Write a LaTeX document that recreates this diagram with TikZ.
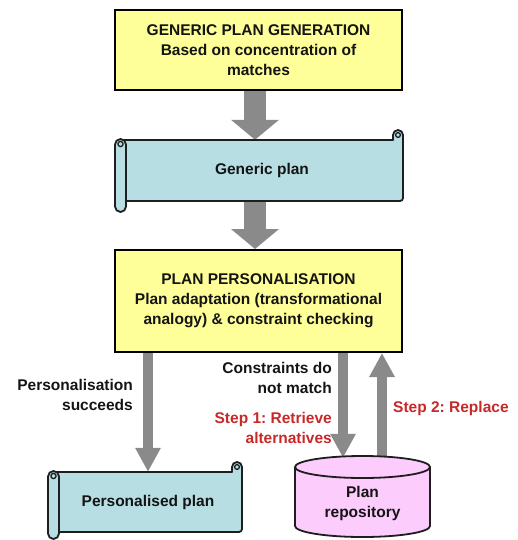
\documentclass[tikz,border=0pt]{standalone}
\usepackage{fontspec}
\setmainfont{Liberation Sans}
\usetikzlibrary{arrows.meta,backgrounds}
\frenchspacing

\definecolor{boxyellow}{HTML}{FFFF99}
\definecolor{scrollteal}{HTML}{B7DEE3}
\definecolor{scrolledge}{HTML}{1E1E1E}
\definecolor{repopink}{HTML}{FCCCFC}
\definecolor{flowgray}{HTML}{8A8A8A}
\definecolor{stepred}{HTML}{C82828}
\definecolor{textdark}{HTML}{141414}

% Scroll outline: left x, right x, body top, body bottom, bottom of the left roll
\newcommand\drawscroll[5]{%
  \filldraw[scrollline, rounded corners=3pt] (#1+6,#3) -- (#2,#3) -- (#2,#4) -- (#1+6,#4) -- cycle;
  \filldraw[scrollline, rounded corners=5pt] (#2-10,#3) -- (#2-10,#3-10) -- (#2,#3-10) -- (#2,#3+6);
  \draw[scrollline, line width=1.3pt] (#2-5,#3-5) circle (2.4pt);
  \filldraw[scrollline, rounded corners=5.5pt] (#1,#3-1) rectangle (#1+11,#5);
  \draw[scrollline, line width=1.3pt] (#1+5.5,#3+4) circle (2.6pt);
}

\begin{document}
\begin{tikzpicture}[x=1pt, y=-1pt,
  every node/.style={font=\fontsize{15.5}{20}\selectfont\bfseries, text=textdark},
  stagebox/.style={draw=black, line width=2pt, fill=boxyellow, align=center, inner sep=0pt,
    minimum width=287pt},
  bodyarea/.style={inner sep=0pt, align=center},
  scrollline/.style={draw=scrolledge, line width=1.8pt, fill=scrollteal},
  repoline/.style={draw=scrolledge, line width=1.8pt, fill=repopink},
  bigflow/.style={draw=flowgray, line width=22pt, -{Triangle[length=20pt, width=47pt]}},
  thinflow/.style={draw=flowgray, line width=10pt, -{Triangle[length=24pt, width=24pt]}},
  sidenote/.style={align=right, inner sep=0pt},
  stepnote/.style={align=right, inner sep=0pt, text=stepred}]

\useasboundingbox (0,0) rectangle (518,540);

% Process stages
\node[stagebox, minimum height=80pt] (gen) at (258.5,50)
  {GENERIC PLAN GENERATION\\Based on concentration of\\matches};
\node[stagebox, minimum height=102pt] (pers) at (258.5,301)
  {PLAN PERSONALISATION\\Plan adaptation (transformational\\analogy) \& constraint checking};

% Scrolls
\drawscroll{115}{403}{140}{201}{212}
\node[bodyarea, minimum width=282pt, minimum height=61pt] (gp) at (262,170.5) {Generic plan};
\drawscroll{48}{242}{472}{532}{539}
\node[bodyarea, minimum width=188pt, minimum height=60pt] (ppl) at (148,502) {Personalised plan};

% Plan repository cylinder
\filldraw[repoline] (362.5,526) ellipse (67.5 and 11);
\fill[repopink] (295,467) rectangle (430,526);
\draw[repoline] (295,467) -- (295,526) (430,467) -- (430,526);
\filldraw[repoline] (362.5,467) ellipse (67.5 and 11);
\node[inner sep=0pt, minimum width=135pt, minimum height=81pt] (repo) at (362.5,496.5) {};
\node[bodyarea] (repotext) at (362.5,503) {Plan\\repository};

% Flow arrows
\begin{pgfonlayer}{background}
  \draw[bigflow] ([xshift=-3.5pt]gen.south) -- ([xshift=-3.5pt]gen.south |- gp.north);
  \draw[bigflow] ([xshift=-3.5pt]gp.south -| gen.south) -- ([xshift=-3.5pt]pers.north);
  \draw[thinflow] (ppl.north |- pers.south) -- (ppl.north);
  \draw[thinflow] ([xshift=-19.5pt]repo.north |- pers.south) -- ([xshift=-19.5pt, yshift=-2pt]repo.north);
  \draw[thinflow] ([xshift=19.5pt, yshift=-4pt]repo.north) -- ([xshift=19.5pt]repo.north |- pers.south);
\end{pgfonlayer}

% Labels
\node[sidenote, anchor=east] (succ) at (133,395) {Personalisation\\succeeds};
\node[sidenote, anchor=east] (nomatch) at (332,378) {Constraints do\\not match};
\node[stepnote, anchor=east] (step1) at (332,427.5) {Step 1: Retrieve\\alternatives};
\node[stepnote, anchor=west] (step2) at (393,408) {Step 2: Replace};

\end{tikzpicture}
\end{document}
